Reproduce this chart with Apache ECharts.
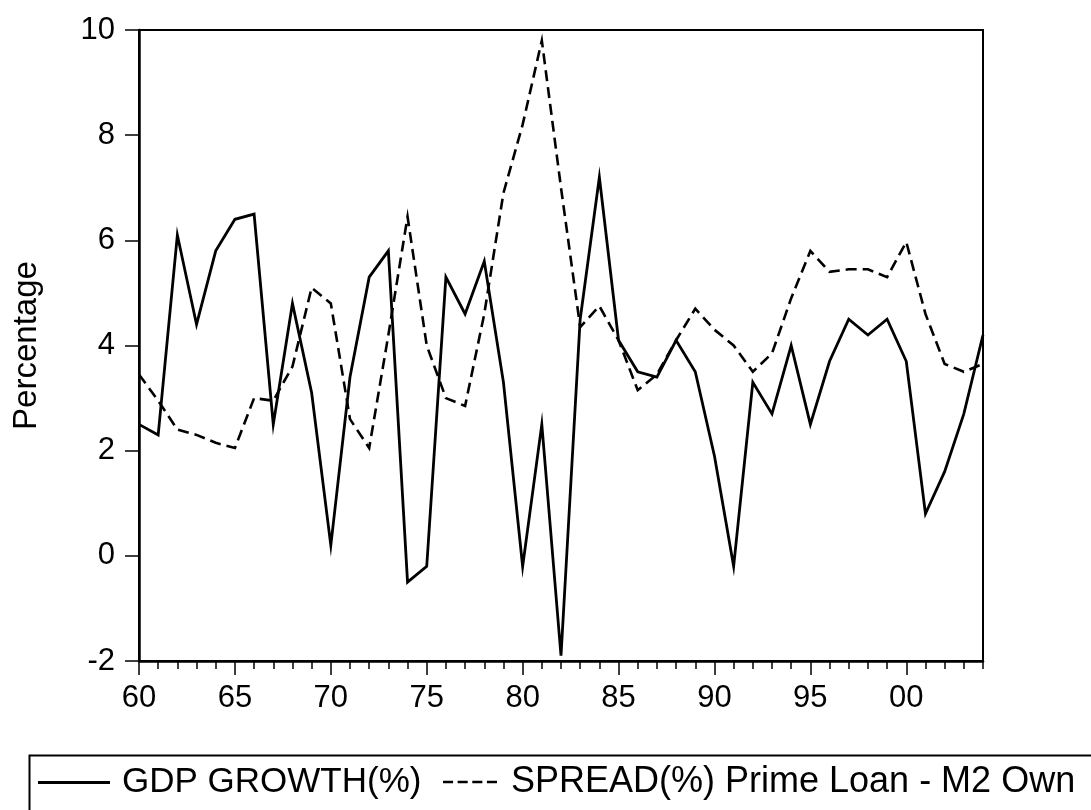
<!DOCTYPE html>
<html>
<head>
<meta charset="utf-8">
<script src="https://cdn.jsdelivr.net/npm/echarts@6/dist/echarts.min.js"></script>
<style>
html,body{margin:0;padding:0;background:#fff;}
#chart{width:1091px;height:810px;}
</style>
</head>
<body>
<div id="chart"></div>
<script>
const years = [1960,1961,1962,1963,1964,1965,1966,1967,1968,1969,
  1970,1971,1972,1973,1974,1975,1976,1977,1978,1979,
  1980,1981,1982,1983,1984,1985,1986,1987,1988,1989,
  1990,1991,1992,1993,1994,1995,1996,1997,1998,1999,
  2000,2001,2002,2003,2004];
const gdpGrowth = [2.5,2.3,6.1,4.4,5.8,6.4,6.5,2.5,4.8,3.1,
  0.2,3.4,5.3,5.8,-0.5,-0.2,5.3,4.6,5.6,3.3,
  -0.2,2.5,-1.9,4.5,7.2,4.1,3.5,3.4,4.1,3.5,
  1.9,-0.2,3.3,2.7,4.0,2.5,3.7,4.5,4.2,4.5,
  3.7,0.8,1.6,2.7,4.2];
const spread = [3.45,2.95,2.4,2.3,2.15,2.05,3.0,2.95,3.6,5.1,
  4.8,2.6,2.05,4.2,6.45,4.0,3.0,2.85,4.6,6.9,
  8.2,9.8,7.0,4.35,4.75,4.1,3.15,3.45,4.1,4.7,
  4.3,4.0,3.5,3.85,4.9,5.8,5.4,5.45,5.45,5.3,
  5.97,4.6,3.65,3.5,3.65];
const seriesNames = ['GDP GROWTH(%)', 'SPREAD(%) Prime Loan - M2 Own'];
const yTitle = 'Percentage';

const FONT = '"Liberation Sans", Arial, Helvetica, sans-serif';
const dashIcon = 'path://M0,0h11v3h-11z M16,0h11v3h-11z M32,0h11v3h-11z M48,0h11v3h-11z';
const chart = echarts.init(document.getElementById('chart'), null, {renderer: 'canvas'});
chart.setOption({
  animation: false,
  backgroundColor: '#fff',
  grid: {left: 139, right: 108, top: 30, bottom: 149, show: true, borderColor: '#000', borderWidth: 2, containLabel: false},
  legend: [
    {data: [{name: seriesNames[0], icon: 'rect'}], left: 38, top: 765, itemWidth: 72, itemHeight: 3, padding: 0,
     textStyle: {fontFamily: FONT, fontSize: 35, color: '#000', padding: [0,0,0,7]}},
    {data: [{name: seriesNames[1], icon: dashIcon}], left: 443, top: 764, itemWidth: 54, itemHeight: 3, padding: 0,
     textStyle: {fontFamily: FONT, fontSize: 36, color: '#000', padding: [0,0,0,9]}}
  ],
  graphic: [{type: 'rect', left: 27, top: 753, shape: {width: 1100, height: 80},
    style: {fill: 'none', stroke: '#000', lineWidth: 2}, silent: true}],
  xAxis: [
    {type: 'category', data: years, boundaryGap: false, position: 'bottom',
     axisLine: {show: true, onZero: false, lineStyle: {color: '#000', width: 2.5}},
     axisTick: {show: true, interval: 0, length: 8, lineStyle: {color: '#000', width: 1.5}},
     axisLabel: {show: false}, splitLine: {show: false}},
    {type: 'category', data: years, boundaryGap: false, position: 'bottom',
     axisLine: {show: false, onZero: false},
     axisTick: {show: true, interval: 4, length: 14, lineStyle: {color: '#000', width: 1.5}},
     axisLabel: {show: true, interval: 4, margin: 22, fontFamily: FONT, fontSize: 31, color: '#000',
       formatter: v => String(v).slice(2)},
     splitLine: {show: false}}
  ],
  yAxis: {type: 'value', min: -2, max: 10, interval: 2,
    name: yTitle, nameLocation: 'middle', nameGap: 96, nameRotate: 90,
    nameTextStyle: {fontFamily: FONT, fontSize: 33, color: '#000'},
    axisLine: {show: true, lineStyle: {color: '#000', width: 2.5}},
    axisTick: {show: true, length: 14, lineStyle: {color: '#000', width: 1.5}},
    axisLabel: {margin: 24, fontFamily: FONT, fontSize: 31, color: '#000'},
    splitLine: {show: false}},
  series: [
    {name: seriesNames[0], type: 'line', data: gdpGrowth, xAxisIndex: 0, symbol: 'none', showSymbol: false,
     color: '#000', lineStyle: {color: '#000', width: 2.8, type: 'solid', join: 'miter'}},
    {name: seriesNames[1], type: 'line', data: spread, xAxisIndex: 0, symbol: 'none', showSymbol: false,
     color: '#000', lineStyle: {color: '#000', width: 2.6, type: [11, 6], join: 'miter'}}
  ]
});
</script>
</body>
</html>
